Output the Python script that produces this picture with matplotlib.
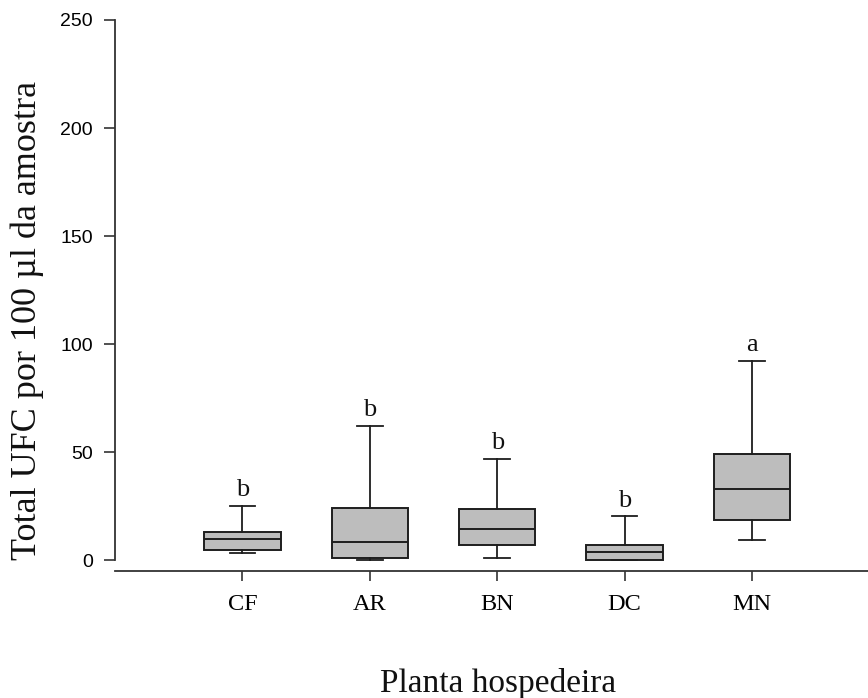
import matplotlib
matplotlib.use("Agg")
import matplotlib.pyplot as plt

categories = ["CF", "AR", "BN", "DC", "MN"]
whislo = [3.1, 0.0, 1.2, 0.0, 9.2]
q1 = [4.9, 0.8, 6.9, 0.0, 18.6]
med = [10.0, 8.5, 14.3, 3.7, 32.9]
q3 = [13.1, 24.3, 23.5, 7.2, 49.1]
whishi = [25.2, 62.3, 46.8, 20.3, 92.3]
letters = ["b", "b", "b", "b", "a"]
yticks = [0, 50, 100, 150, 200, 250]

serif = ["Liberation Serif", "DejaVu Serif"]
sans = ["Liberation Sans", "DejaVu Sans"]

fig = plt.figure(figsize=(8.68, 6.98), dpi=100)
ax = fig.add_axes([115 / 868, 127.3 / 698, (868 - 115) / 868, (570.7 - 20) / 698])

stats = []
for i, c in enumerate(categories):
    stats.append(dict(label=c, whislo=whislo[i], q1=q1[i], med=med[i],
                      q3=q3[i], whishi=whishi[i], fliers=[]))

edge = "#1e1e1e"
positions = list(range(1, len(categories) + 1))
ax.bxp(stats, positions=positions, widths=0.6, capwidths=0.2,
       patch_artist=True, showfliers=False,
       boxprops=dict(facecolor="#bdbdbd", edgecolor=edge, linewidth=1.4),
       medianprops=dict(color=edge, linewidth=1.4),
       whiskerprops=dict(color=edge, linewidth=1.3),
       capprops=dict(color=edge, linewidth=1.3))

for i, l in enumerate(letters):
    ax.annotate(l, xy=(positions[i], whishi[i]), xytext=(0, 7),
                textcoords="offset points", ha="center", va="baseline",
                fontsize=19, family=serif, color="#111111")

ax.set_xlim(0, 5.91)
ax.set_ylim(-4.9, 250)
ax.set_yticks(yticks)
ax.set_yticklabels([str(v) for v in yticks], family=sans, fontsize=14)
ax.set_xticks(positions)
ax.set_xticklabels(categories, family=serif, fontsize=17.5)

for s in ["top", "right"]:
    ax.spines[s].set_visible(False)
for s in ["left", "bottom"]:
    ax.spines[s].set_color("#333333")
    ax.spines[s].set_linewidth(1.3)
ax.spines["left"].set_bounds(0, 250)

ax.tick_params(axis="y", direction="out", length=8, width=1.2, color="#333333", pad=8)
ax.tick_params(axis="x", direction="out", length=7, width=1.2, color="#333333", pad=10)

fig.text(27 / 868, 1 - 320 / 698, "Total UFC por 100 \u00b5l da amostra", rotation=90,
         ha="center", va="center", fontsize=26, family=serif, color="#111111")
fig.text(498 / 868, 6.3 / 698, "Planta hospedeira", ha="center", va="baseline",
         fontsize=24, family=serif, color="#111111")

fig.savefig("out.png", dpi=100)
